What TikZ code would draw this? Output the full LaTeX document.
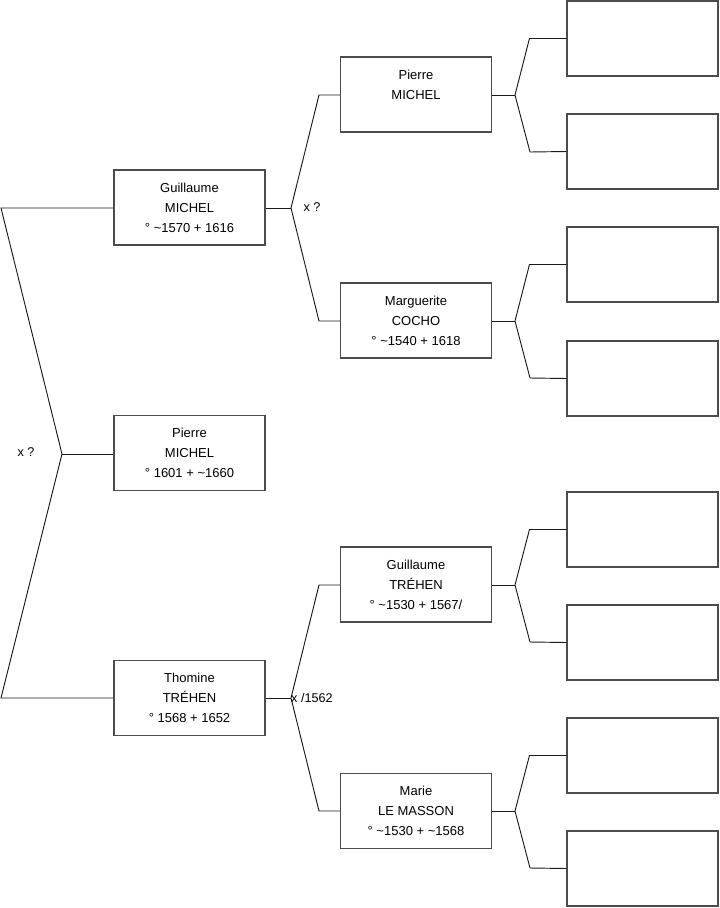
\documentclass[tikz,border=0pt]{standalone}
\usepackage{fontspec}
\setmainfont{Liberation Sans}
\tikzset{
  person/.style={
    draw=black!70,
    line width=0.8pt,
    minimum width=113.25pt,
    minimum height=56.25pt,
    inner sep=0pt,
    align=center,
    font=\fontsize{9.75}{15}\selectfont
  },
  blank box/.style={
    person
  },
  link/.style={
    line width=0.7pt,
    color=black!90
  },
  union label/.style={
    font=\fontsize{9.5}{11}\selectfont
  }
}
\begin{document}
\begin{tikzpicture}[x=0.75pt, y=-0.75pt]
    % cadre : 1 unite = 1 pixel de l'image
    \useasboundingbox (0,0) rectangle (719,908);

    % generation 1
    \node[person] (pm) at (189.5, 453) {Pierre\\MICHEL\\° 1601 + \textasciitilde1660};
    \node[person] (gm) at (189.5, 207.5) {Guillaume\\MICHEL\\° \textasciitilde1570 + 1616};
    \node[person] (th) at (189.5, 698) {Thomine\\TRÉHEN\\° 1568 + 1652};

    % generation 2
    \node[person] (pp) at (416, 94.5) {Pierre\\MICHEL\\\vphantom{0}};
    \node[person] (mc) at (416, 320.5) {Marguerite\\COCHO\\° \textasciitilde1540 + 1618};
    \node[person] (gt) at (416, 584.5) {Guillaume\\TRÉHEN\\° \textasciitilde1530 + 1567/};
    \node[person] (ml) at (416, 811) {Marie\\LE MASSON\\° \textasciitilde1530 + \textasciitilde1568};

    % generation 3 (cases vides)
    \foreach \i/\y in {1/38.5, 2/151.5, 3/264.5, 4/378.5, 5/529.5, 6/642.5, 7/755.5, 8/868.5} {
      \node[blank box] (b\i) at (642.5, \y) {};
    }

    % fourches
    \coordinate (v0) at (62, 454);
    \coordinate (a1) at (1, 208);
    \coordinate (a2) at (1, 698);
    \coordinate (v1) at (291, 208);
    \coordinate (v2) at (291, 698);
    \coordinate (c1) at (319, 95);
    \coordinate (c2) at (319, 321);
    \coordinate (c3) at (319, 585);
    \coordinate (c4) at (319, 811);

    \draw[link] (gm.west |- a1) -- (a1) -- (v0) -- (a2) -- (th.west |- a2);
    \draw[link] (v0) -- (pm.west |- v0);
    \draw[link] (gm.east |- v1) -- (v1);
    \draw[link] (pp.west |- c1) -- (c1) -- (v1) -- (c2) -- (mc.west |- c2);
    \draw[link] (th.east |- v2) -- (v2);
    \draw[link] (gt.west |- c3) -- (c3) -- (v2) -- (c4) -- (ml.west |- c4);

    % vers la generation 3
    \foreach \p/\u/\d/\yv in {pp/1/2/95, mc/3/4/321, gt/5/6/585, ml/7/8/811} {
      \coordinate (w\p) at (515, \yv);
      \draw[link] (\p.east |- w\p) -- (w\p);
      \draw[link] (b\u.west) -- ++(-37, 0) -- (w\p) -- (530, \yv+57) -- (b\d.west);
    }

    % mariages
    \node[union label] (x0) at (26, 452) {x ?};
    \node[union label] (x1) at (312, 207) {x ?};
    \node[union label] (x2) at (312, 698) {x /1562};

  \end{tikzpicture}
\end{document}
